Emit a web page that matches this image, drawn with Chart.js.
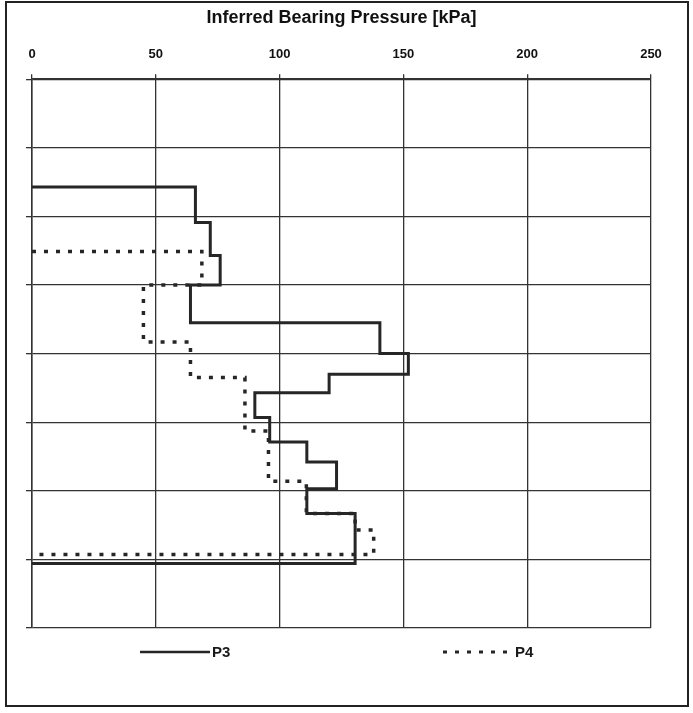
<!DOCTYPE html>
<html>
<head>
<meta charset="utf-8">
<script src="https://cdn.jsdelivr.net/npm/chart.js@4.4.1/dist/chart.umd.min.js"></script>
<style>
  body { margin: 0; background: #fff; }
  #wrap { position: relative; width: 693px; height: 713px; }
  #frame { position: absolute; left: 5px; top: 1px; width: 684px; height: 706px; border: 2px solid #222; box-sizing: border-box; pointer-events: none; }
</style>
</head>
<body>
<div id="wrap">
  <canvas id="bearingChart"></canvas>
  <div id="frame"></div>
</div>
<script>
// Pressure axis ticks (kPa)
const pressureTicks = [0, 50, 100, 150, 200, 250];

// P3 - layer boundaries (depth units, top = 0) and pressure in each layer
const p3Depths = [1.57, 2.09, 2.57, 3.0, 3.55, 4.0, 4.3, 4.57, 4.93, 5.29, 5.58, 5.97, 6.33, 7.06];
const p3Pressure = [66, 72, 76, 64, 140.5, 152, 120, 90, 96, 111, 123, 111, 130.5];

// P4 - layer boundaries and pressure in each layer
const p4Depths = [2.51, 3.0, 3.83, 4.35, 5.13, 5.86, 6.33, 6.57, 6.93];
const p4Pressure = [68.6, 45, 64, 86, 95.5, 110.8, 130.5, 138];

// Turn layers into a stepped outline, starting and ending on the 0 axis
function stepPath(depths, values) {
    const pts = [{ x: 0, y: depths[0] }];
    values.forEach((v, i) => {
        pts.push({ x: v, y: depths[i] });
        pts.push({ x: v, y: depths[i + 1] });
    });
    pts.push({ x: 0, y: depths[depths.length - 1] });
    return pts;
}

const font = "'Liberation Sans', Arial, sans-serif";

// Legend spread wide under the plot, like the original sheet
const wideLegend = {
    id: 'wideLegend',
    afterDraw(chart) {
        const c = chart.ctx;
        const area = chart.chartArea;
        const starts = [area.left + 108, area.left + 411];
        const y = area.bottom + 24;
        chart.data.datasets.forEach((ds, i) => {
            const x = starts[i];
            c.save();
            c.strokeStyle = ds.borderColor;
            c.lineWidth = ds.borderWidth - 0.5;
            c.setLineDash(ds.borderDash || []);
            c.beginPath();
            c.moveTo(x, y);
            c.lineTo(x + 70, y);
            c.stroke();
            c.setLineDash([]);
            c.fillStyle = '#1a1a1a';
            c.font = 'bold 15px ' + font;
            c.textBaseline = 'middle';
            c.fillText(ds.label, x + 72, y + 1);
            c.restore();
        });
    }
};

const ctx = document.getElementById('bearingChart').getContext('2d');
const chart = new Chart(ctx, {
    type: 'line',
    data: {
        datasets: [{
            label: 'P3',
            data: stepPath(p3Depths, p3Pressure),
            borderColor: '#262626',
            borderWidth: 3,
            pointRadius: 0,
            fill: false,
            tension: 0
        }, {
            label: 'P4',
            data: stepPath(p4Depths, p4Pressure),
            borderColor: '#262626',
            borderWidth: 3.5,
            borderDash: [4, 8],
            pointRadius: 0,
            fill: false,
            tension: 0
        }]
    },
    options: {
        responsive: true,
        maintainAspectRatio: false,
        animation: false,
        layout: { padding: { left: 26, right: 42, top: 7, bottom: 85 } },
        plugins: {
            tooltip: { enabled: false },
            legend: { display: false }
        },
        scales: {
            x: {
                type: 'linear',
                position: 'top',
                min: 0,
                max: 250,
                afterBuildTicks: axis => { axis.ticks = pressureTicks.map(v => ({ value: v })); },
                ticks: {
                    color: '#111',
                    padding: 12,
                    font: { family: font, size: 13, weight: 'bold' }
                },
                grid: { color: '#333', lineWidth: 1.3, tickLength: 5 },
                border: { color: '#333', width: 1.5 },
                title: {
                    display: true,
                    text: 'Inferred Bearing Pressure [kPa]',
                    color: '#111',
                    padding: { top: 0, bottom: 6 },
                    font: { family: font, size: 18, weight: 'bold' }
                }
            },
            y: {
                type: 'linear',
                reverse: true,
                min: 0,
                max: 8,
                ticks: { display: false, stepSize: 1 },
                grid: { color: '#333', lineWidth: 1.3, tickLength: 6 },
                border: { color: '#333', width: 1.5 }
            }
        }
    },
    plugins: [wideLegend]
});
</script>
</body>
</html>
